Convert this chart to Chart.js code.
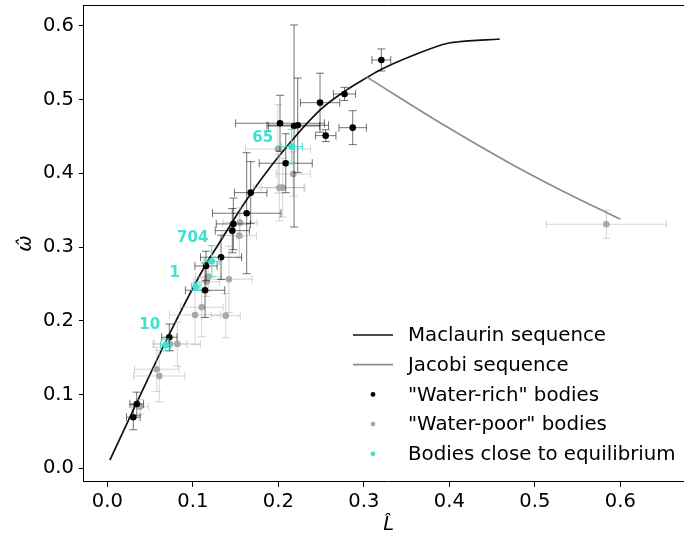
<!DOCTYPE html>
<html>
<head>
<meta charset="utf-8">
<script src="https://cdn.jsdelivr.net/npm/chart.js@4.4.0/dist/chart.umd.min.js"></script>
<style>
  html, body { margin: 0; padding: 0; background: #fff; overflow: hidden; }
  body { width: 684px; height: 540px; }
</style>
</head>
<body>
<canvas id="chart" width="700" height="540"></canvas>
<script>
// equilibrium sequences
let maclaurinL = [0.003, 0.034, 0.073, 0.116, 0.128, 0.163, 0.202, 0.249, 0.280, 0.304, 0.319, 0.358, 0.397, 0.409, 0.459];
let maclaurinW = [0.011, 0.088, 0.183, 0.278, 0.300, 0.364, 0.425, 0.486, 0.513, 0.530, 0.540, 0.560, 0.576, 0.578, 0.582];
let jacobiL = [0.304, 0.397, 0.475, 0.553, 0.600];
let jacobiW = [0.530, 0.463, 0.411, 0.364, 0.338];

// "water-rich" bodies
let richL = [0.3205, 0.2774, 0.2488, 0.2870, 0.2554, 0.2020, 0.2184, 0.2227, 0.2087, 0.1677, 0.1630, 0.1474, 0.1462, 0.1330, 0.1154, 0.1143, 0.0725, 0.0344, 0.0304];
let richW = [0.5536, 0.5075, 0.4957, 0.4618, 0.4510, 0.4678, 0.4641, 0.4651, 0.4136, 0.3737, 0.3458, 0.3313, 0.3222, 0.2861, 0.2743, 0.2414, 0.1776, 0.0872, 0.0692];
let richErrL = [0.011, 0.013, 0.023, 0.016, 0.012, 0.052, 0.030, 0.036, 0.031, 0.019, 0.040, 0.020, 0.020, 0.024, 0.013, 0.023, 0.009, 0.008, 0.008];
let richErrW = [0.015, 0.009, 0.040, 0.023, 0.008, 0.038, 0.137, 0.064, 0.040, 0.042, 0.082, 0.035, 0.030, 0.030, 0.020, 0.037, 0.018, 0.016, 0.017];

// "water-poor" bodies
let poorL = [0.5837, 0.1996, 0.2175, 0.2012, 0.2051, 0.1552, 0.1544, 0.1423, 0.1181, 0.1163, 0.1104, 0.1026, 0.1385, 0.0819, 0.0733, 0.0578, 0.0608, 0.0382];
let poorW = [0.3308, 0.4330, 0.3990, 0.3805, 0.3805, 0.3330, 0.3154, 0.2563, 0.2598, 0.2530, 0.2183, 0.2079, 0.2069, 0.1685, 0.1685, 0.1342, 0.1251, 0.0835];
let poorErrL = [0.070, 0.038, 0.020, 0.030, 0.025, 0.020, 0.020, 0.027, 0.015, 0.015, 0.025, 0.030, 0.017, 0.027, 0.020, 0.026, 0.030, 0.010];
let poorErrW = [0.019, 0.060, 0.030, 0.045, 0.040, 0.020, 0.030, 0.045, 0.020, 0.020, 0.040, 0.040, 0.030, 0.030, 0.010, 0.030, 0.035, 0.010];

// bodies close to equilibrium
let eqNames = ['65', '704', '1', '10'];
let eqL = [0.2157, 0.1221, 0.1034, 0.0683];
let eqW = [0.4361, 0.2807, 0.2462, 0.1672];
let eqErrL = [0.0123, 0.0088, 0.005, 0.006];
let eqErrW = [0.0235, 0.021, 0.005, 0.008];

let tickVals = [0, 0.1, 0.2, 0.3, 0.4, 0.5, 0.6];

const CYAN = '#40e0d0';
const FONT = 'DejaVu Sans';
Chart.defaults.font.family = FONT;
Chart.defaults.color = '#000';

function pts(xs, ys) {
  return xs.map((x, i) => ({ x: x, y: ys[i] }));
}

// errorbars drawn under each scatter dataset
const errorBars = {
  id: 'errorBars',
  beforeDatasetDraw(chart, args) {
    const ds = chart.data.datasets[args.index];
    if (!ds.xErr) return;
    const xs = chart.scales.x, ys = chart.scales.y;
    const ctx = chart.ctx;
    const cap = 4;
    ctx.save();
    ctx.strokeStyle = ds.errColor;
    ctx.lineWidth = 1;
    ds.data.forEach((p, i) => {
      const cx = xs.getPixelForValue(p.x), cy = ys.getPixelForValue(p.y);
      const x0 = xs.getPixelForValue(p.x - ds.xErr[i]), x1 = xs.getPixelForValue(p.x + ds.xErr[i]);
      const y0 = ys.getPixelForValue(p.y - ds.yErr[i]), y1 = ys.getPixelForValue(p.y + ds.yErr[i]);
      ctx.beginPath();
      ctx.moveTo(x0, cy); ctx.lineTo(x1, cy);
      ctx.moveTo(x0, cy - cap); ctx.lineTo(x0, cy + cap);
      ctx.moveTo(x1, cy - cap); ctx.lineTo(x1, cy + cap);
      ctx.stroke();
      ctx.beginPath();
      ctx.moveTo(cx, y0); ctx.lineTo(cx, y1);
      ctx.moveTo(cx - cap, y0); ctx.lineTo(cx + cap, y0);
      ctx.moveTo(cx - cap, y1); ctx.lineTo(cx + cap, y1);
      ctx.stroke();
    });
    ctx.restore();
  }
};

// top spine, annotations and legend
const extras = {
  id: 'extras',
  afterDraw(chart) {
    const ctx = chart.ctx;
    const a = chart.chartArea;
    const xs = chart.scales.x, ys = chart.scales.y;
    ctx.save();
    ctx.strokeStyle = '#000';
    ctx.lineWidth = 1;
    ctx.beginPath();
    ctx.moveTo(a.left, Math.round(a.top) + 0.5);
    ctx.lineTo(a.right, Math.round(a.top) + 0.5);
    ctx.stroke();

    // names of the bodies close to equilibrium
    const offs = [[-29, -9], [-19, -23], [-21, -14], [-16, -20]];
    ctx.font = 'bold 15px ' + FONT;
    ctx.fillStyle = CYAN;
    ctx.textAlign = 'center';
    ctx.textBaseline = 'middle';
    eqNames.forEach((n, i) => {
      const px = xs.getPixelForValue(eqL[i]), py = ys.getPixelForValue(eqW[i]);
      ctx.fillText(n, px + offs[i][0], py + offs[i][1]);
    });

    // legend, lower right
    const items = [
      { label: 'Maclaurin sequence', line: '#111' },
      { label: 'Jacobi sequence', line: '#8c8c8c' },
      { label: '"Water-rich" bodies', dot: '#000' },
      { label: '"Water-poor" bodies', dot: '#a9a9a9' },
      { label: 'Bodies close to equilibrium', dot: CYAN }
    ];
    ctx.font = '19.8px ' + FONT;
    ctx.textAlign = 'left';
    items.forEach((it, i) => {
      const y = 335 + i * 29.7;
      if (it.line) {
        ctx.strokeStyle = it.line;
        ctx.lineWidth = 1.7;
        ctx.beginPath();
        ctx.moveTo(353, y); ctx.lineTo(393, y);
        ctx.stroke();
      } else {
        ctx.fillStyle = it.dot;
        ctx.beginPath();
        ctx.arc(373, y, 2.4, 0, Math.PI * 2);
        ctx.fill();
      }
      ctx.fillStyle = '#000';
      ctx.fillText(it.label, 408, y + 1);
    });
    ctx.restore();
  }
};

const scatterBase = { type: 'scatter', pointRadius: 3.3, pointHoverRadius: 3.3, pointBorderWidth: 0 };

function noPad(s) {
  s.paddingTop = 0; s.paddingBottom = 0; s.paddingLeft = 0; s.paddingRight = 0;
}

new Chart(document.getElementById('chart').getContext('2d'), {
  type: 'scatter',
  data: {
    datasets: [
      Object.assign({}, scatterBase, {
        label: 'Bodies close to equilibrium',
        data: pts(eqL, eqW), xErr: eqErrL, yErr: eqErrW, errColor: CYAN,
        pointBackgroundColor: CYAN
      }),
      Object.assign({}, scatterBase, {
        label: '"Water-rich" bodies',
        data: pts(richL, richW), xErr: richErrL, yErr: richErrW, errColor: 'rgba(0,0,0,0.55)',
        pointBackgroundColor: '#000'
      }),
      Object.assign({}, scatterBase, {
        label: '"Water-poor" bodies',
        data: pts(poorL, poorW), xErr: poorErrL, yErr: poorErrW, errColor: 'rgba(169,169,169,0.5)',
        pointBackgroundColor: '#a9a9a9'
      }),
      {
        type: 'line', label: 'Jacobi sequence',
        data: pts(jacobiL, jacobiW),
        borderColor: '#8c8c8c', borderWidth: 1.7, pointRadius: 0,
        cubicInterpolationMode: 'monotone', fill: false
      },
      {
        type: 'line', label: 'Maclaurin sequence',
        data: pts(maclaurinL, maclaurinW),
        borderColor: '#111', borderWidth: 1.7, pointRadius: 0,
        cubicInterpolationMode: 'monotone', fill: false
      }
    ]
  },
  options: {
    responsive: false,
    animation: false,
    devicePixelRatio: 1,
    layout: { padding: { top: 5.1, right: 6.5, left: 0, bottom: 0 } },
    plugins: {
      legend: { display: false },
      tooltip: { enabled: false }
    },
    scales: {
      x: {
        type: 'linear',
        min: -0.0274,
        max: 0.6856,
        afterBuildTicks: (s) => { s.ticks = tickVals.map(v => ({ value: v })); },
        afterFit: (s) => { s.height = 58.1; noPad(s); },
        grid: { drawOnChartArea: false, drawTicks: true, tickLength: 5, tickColor: '#000' },
        border: { display: true, color: '#000', width: 1 },
        ticks: { font: { size: 19.5 }, color: '#000', padding: 3, maxRotation: 0,
          callback: (v) => v.toFixed(1) },
        title: { display: true, text: 'L\u0302', font: { size: 19.5, style: 'italic' }, color: '#000',
          padding: { top: 0, bottom: 3 } }
      },
      y: {
        type: 'linear',
        min: -0.0185,
        max: 0.628,
        afterBuildTicks: (s) => { s.ticks = tickVals.map(v => ({ value: v })); },
        afterFit: (s) => { s.width = 83.9; noPad(s); },
        grid: { drawOnChartArea: false, drawTicks: true, tickLength: 5, tickColor: '#000' },
        border: { display: true, color: '#000', width: 1 },
        ticks: { font: { size: 19.5 }, color: '#000', padding: 5,
          callback: (v) => v.toFixed(1) },
        title: { display: true, text: '\u03c9\u0302', font: { size: 19.5, style: 'italic' }, color: '#000',
          padding: { top: 14, bottom: 0 } }
      }
    }
  },
  plugins: [errorBars, extras]
});
</script>
</body>
</html>
